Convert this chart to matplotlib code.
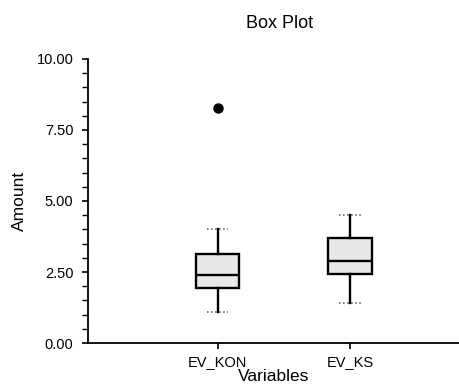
import matplotlib
matplotlib.use("Agg")
import matplotlib.pyplot as plt
from matplotlib.ticker import MultipleLocator, FormatStrFormatter

plt.rcParams['font.family'] = ['Liberation Sans', 'DejaVu Sans']

categories = ["EV_KON", "EV_KS"]
whisker_low = [1.09, 1.41]
q1 = [1.94, 2.43]
medians = [2.39, 2.89]
q3 = [3.13, 3.70]
whisker_high = [4.01, 4.51]
outliers = [[8.27], []]

stats = []
for i, lab in enumerate(categories):
    stats.append(dict(label=lab, whislo=whisker_low[i], q1=q1[i], med=medians[i],
                      q3=q3[i], whishi=whisker_high[i], fliers=outliers[i]))

fig = plt.figure(figsize=(4.6, 3.85), dpi=100)
ax = fig.add_axes([0.191, 0.109, 0.809, 0.738])

ax.bxp(stats, positions=[1, 2], widths=0.33, patch_artist=True,
       boxprops=dict(facecolor='#e8e8e8', edgecolor='black', linewidth=1.7),
       medianprops=dict(color='black', linewidth=1.7),
       whiskerprops=dict(color='black', linewidth=1.7),
       capprops=dict(color='#555555', linewidth=1.1, linestyle=':'),
       capwidths=0.16,
       flierprops=dict(marker='o', markerfacecolor='black', markeredgecolor='black',
                       markersize=6.5))

ax.set_xlim(0.02, 2.83)
ax.set_ylim(0, 10)
ax.yaxis.set_major_locator(MultipleLocator(2.5))
ax.yaxis.set_minor_locator(MultipleLocator(0.5))
ax.yaxis.set_major_formatter(FormatStrFormatter('%.2f'))
ax.set_xticks([1, 2])
ax.set_xticklabels(categories)

for s in ['top', 'right']:
    ax.spines[s].set_visible(False)
for s in ['left', 'bottom']:
    ax.spines[s].set_linewidth(1.3)

ax.tick_params(axis='both', which='major', length=4.5, width=1.2, labelsize=10.5, colors='black')
ax.tick_params(axis='y', which='minor', length=4, width=1.0)
ax.tick_params(axis='y', pad=6)
ax.tick_params(axis='x', pad=4)

ax.set_ylabel("Amount", fontsize=12.5, labelpad=7)
ax.set_xlabel("Variables", fontsize=12.5, labelpad=0)
fig.text(0.607, 0.940, "Box Plot", ha='center', va='center', fontsize=13)

fig.savefig("out.png", dpi=100)
